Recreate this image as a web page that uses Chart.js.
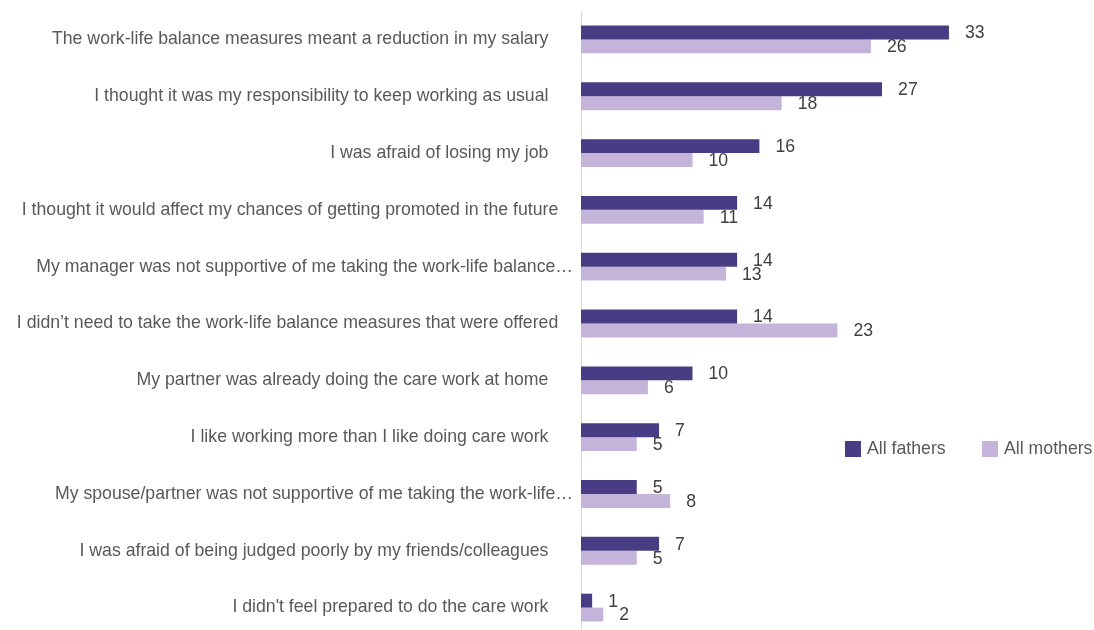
<!DOCTYPE html>
<html>
<head>
<meta charset="utf-8">
<script src="https://cdn.jsdelivr.net/npm/chart.js@4.4.1/dist/chart.umd.min.js"></script>
<style>
    html, body { margin: 0; padding: 0; background: #fff; overflow: hidden; }
    #wrap { position: relative; width: 1094px; height: 636px; }
</style>
</head>
<body>
<div id="wrap"><canvas id="barChart"></canvas></div>
<script>
// reasons given, % of respondents (labels padded with spaces like the source sheet)
var reasons = [
    'The work-life balance measures meant a reduction in my salary     ',
    'I thought it was my responsibility to keep working as usual     ',
    'I was afraid of losing my job     ',
    'I thought it would affect my chances of getting promoted in the future   ',
    'My manager was not supportive of me taking the work-life balance\u2026',
    'I didn\u2019t need to take the work-life balance measures that were offered   ',
    'My partner was already doing the care work at home     ',
    'I like working more than I like doing care work     ',
    'My spouse/partner was not supportive of me taking the work-life\u2026',
    'I was afraid of being judged poorly by my friends/colleagues     ',
    "I didn't feel prepared to do the care work     "
];
var fathers = [33, 27, 16, 14, 14, 14, 10, 7, 5, 7, 1];
var mothers = [26, 18, 10, 11, 13, 23, 6, 5, 8, 5, 2];

var seriesNames = ['All fathers', 'All mothers'];
var seriesColors = ['#483d85', '#c5b4d9'];

const FONT = '"Liberation Sans", Arial, sans-serif';
const FSIZE = 17.7;

// value written just past the end of each bar
const valueLabels = {
    id: 'valueLabels',
    afterDatasetsDraw: function (chart) {
        var ctx = chart.ctx;
        ctx.save();
        ctx.font = FSIZE + 'px ' + FONT;
        ctx.fillStyle = '#404040';
        ctx.textAlign = 'left';
        ctx.textBaseline = 'middle';
        chart.data.datasets.forEach(function (ds, i) {
            chart.getDatasetMeta(i).data.forEach(function (bar, j) {
                ctx.fillText(ds.data[j], bar.x + 16, bar.y + 1);
            });
        });
        ctx.restore();
    }
};

// legend sits in one row, lower right
const sideLegend = {
    id: 'sideLegend',
    afterDraw: function (chart) {
        var ctx = chart.ctx;
        var spots = [845, 982];
        ctx.save();
        ctx.font = FSIZE + 'px ' + FONT;
        ctx.textBaseline = 'middle';
        chart.data.datasets.forEach(function (ds, i) {
            var x = spots[i];
            ctx.fillStyle = ds.backgroundColor;
            ctx.fillRect(x, 441, 16, 16);
            ctx.fillStyle = '#595959';
            ctx.fillText(ds.label, x + 22, 449);
        });
        ctx.restore();
    }
};

const config = {
    type: 'bar',
    data: {
        labels: reasons,
        datasets: [
            {
                label: seriesNames[0],
                data: fathers,
                backgroundColor: seriesColors[0],
                categoryPercentage: 0.49,
                barPercentage: 1
            },
            {
                label: seriesNames[1],
                data: mothers,
                backgroundColor: seriesColors[1],
                categoryPercentage: 0.49,
                barPercentage: 1
            }
        ]
    },
    options: {
        indexAxis: 'y',
        responsive: true, maintainAspectRatio: false,
        animation: false,
        layout: { padding: { top: 11, right: 67, bottom: 0, left: 0 } },
        scales: {
            x: {
                display: false,
                min: 0,
                max: 40
            },
            y: {
                afterFit: function (scale) {
                    scale.width = 581;
                    // no extra room for the first/last label, rows fill the height
                    scale.paddingTop = 0;
                    scale.paddingBottom = 0;
                },
                grid: { display: false, drawTicks: false },
                border: { display: true, color: '#d9d9d9', width: 1 },
                ticks: {
                    padding: 8,
                    color: '#595959',
                    font: { family: FONT, size: FSIZE },
                    autoSkip: false
                }
            }
        },
        plugins: {
            legend: { display: false },
            tooltip: { enabled: false }
        }
    },
    plugins: [valueLabels, sideLegend]
};

var barChart = new Chart(
    document.getElementById('barChart'),
    config
);
</script>
</body>
</html>
